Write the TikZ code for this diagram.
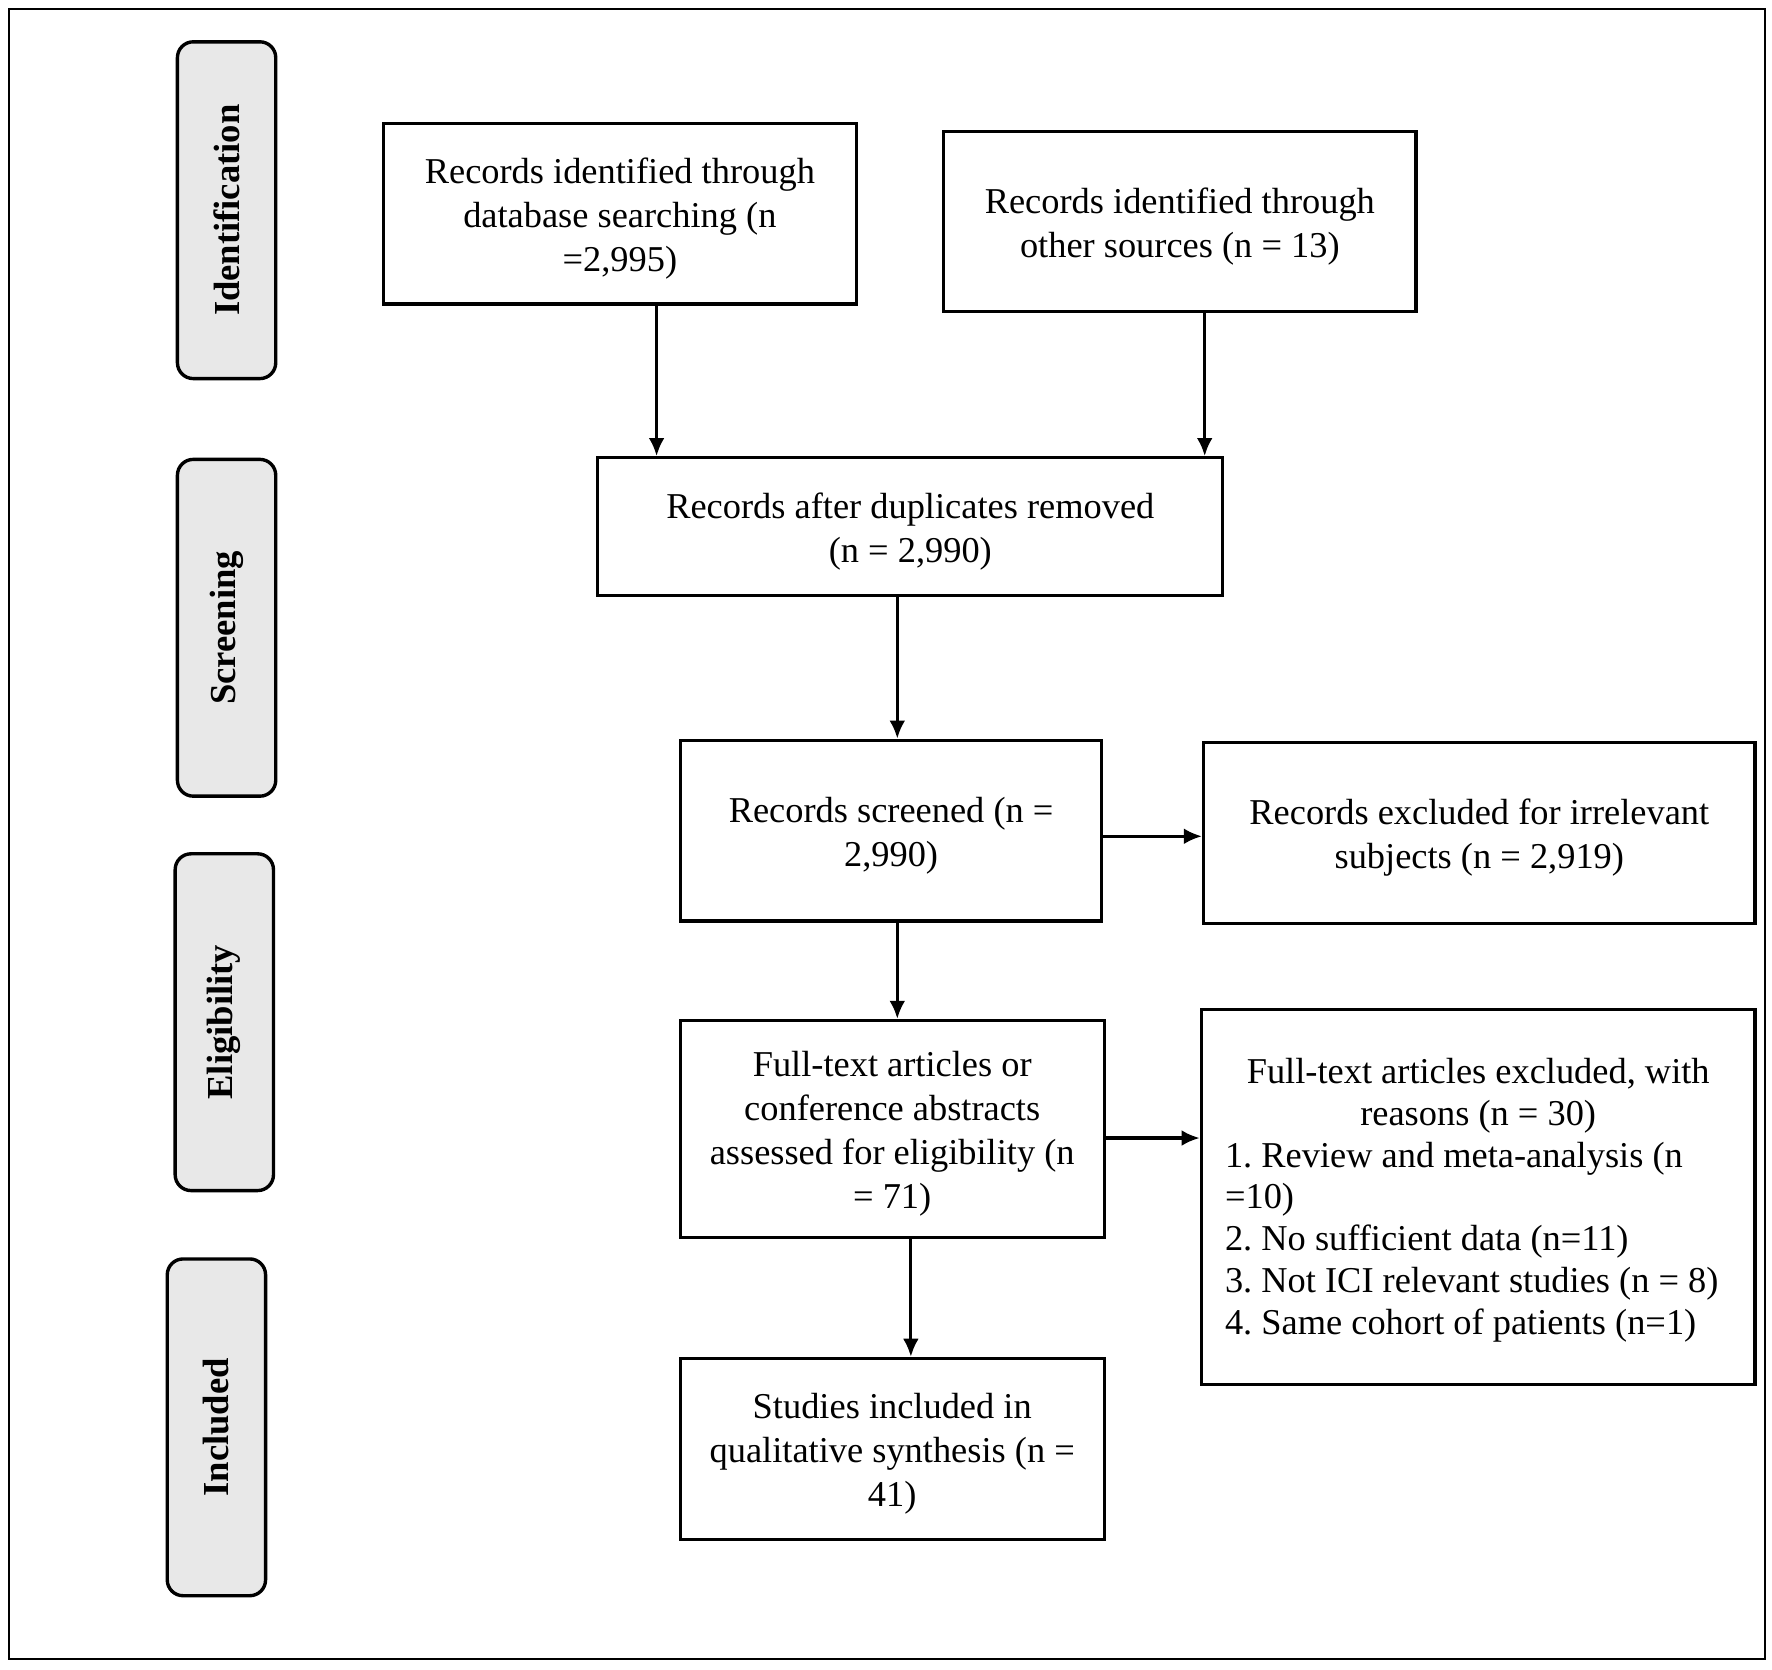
\documentclass[tikz,border=0pt]{standalone}
\usepackage{fontspec}
\setmainfont{Liberation Serif}
\usetikzlibrary{arrows.meta,calc}
\newcommand{\mainsz}{\fontsize{16.1}{19.4}\selectfont\frenchspacing}
\newcommand{\reasz}{\fontsize{16.1}{18.5}\selectfont\frenchspacing}
\newcommand{\stagesz}{\fontsize{16.2}{18}\selectfont\bfseries}
\newcommand{\topst}{\rule{0pt}{15.5pt}}
\begin{document}
\begin{tikzpicture}[x=0.5pt,y=-0.5pt,
  mbox/.style={draw, line width=1.4pt, inner sep=0pt, align=center, font=\mainsz},
  stagebox/.style={draw, line width=1.5pt, fill=gray!18, rounded corners=7pt, rotate=90,
     minimum width=149pt, minimum height=43.5pt, inner sep=0pt, font=\stagesz},
  arr/.style={line width=1.4pt, -{Latex[length=8pt,width=7pt]}}]
\useasboundingbox (0,0) rectangle (1568,1477);
\draw[line width=1pt] (8,8) rectangle (1562,1468);
% stage boxes
\node[stagebox] (sid) at (200.5,186) {Identification};
\node[stagebox] (ssc) at (200.5,555.5) {Screening};
\node[stagebox] (sel) at (198.5,904.5) {Eligibility};
\node[stagebox] (sin) at (191.5,1263) {Included};
% main boxes
\node[mbox, minimum width=209.5pt, minimum height=80pt] (db) at (548.5,189)
  {\topst Records identified through\\database searching (n\\=2,995)};
\node[mbox, minimum width=209pt, minimum height=80pt] (oth) at (1044,196)
  {\topst Records identified through\\other sources (n = 13)};
\node[mbox, minimum width=276.5pt, minimum height=61pt] (dup) at (805.5,466)
  {\topst Records after duplicates removed\\(n = 2,990)};
\node[mbox, minimum width=186.5pt, minimum height=80pt] (scr) at (788.5,735)
  {\topst Records screened (n =\\2,990)};
\node[mbox, minimum width=244pt, minimum height=80pt] (exc) at (1309,737)
  {\topst Records excluded for irrelevant\\subjects (n = 2,919)};
\node[mbox, minimum width=187.5pt, minimum height=96pt] (full) at (789.5,999)
  {\topst Full-text articles or\\conference abstracts\\assessed for eligibility (n\\= 71)};
\node[draw, line width=1.4pt, minimum width=245pt, minimum height=166pt, inner sep=0pt] (rea) at (1308,1059) {};
\node[inner sep=0pt, text width=224pt, align=flush left, font=\reasz] (reat) at (1308,1062)
  {{\centering Full-text articles excluded, with\\reasons (n = 30)\par}
   1. Review and meta-analysis (n\\=10)\\2. No sufficient data (n=11)\\3. Not ICI relevant studies (n = 8)\\4. Same cohort of patients (n=1)};
\node[mbox, minimum width=187.5pt, minimum height=80pt] (inc) at (789.5,1282)
  {\topst Studies included in\\qualitative synthesis (n =\\41)};
% connectors
\draw[arr] ([xshift=16.25pt]db.south) -- ([xshift=16.25pt]db.south |- dup.north);
\draw[arr] ([xshift=11pt]oth.south) -- ([xshift=11pt]oth.south |- dup.north);
\draw[arr] ([xshift=-5.75pt]dup.south) -- ([xshift=-5.75pt]dup.south |- scr.north);
\draw[arr] ([yshift=-2.5pt]scr.east) -- ([yshift=-2.5pt]scr.east -| exc.west);
\draw[arr] ([xshift=2.75pt]scr.south) -- ([xshift=2.75pt]scr.south |- full.north);
\draw[arr] ([yshift=-4pt]full.east) -- ([yshift=-4pt]full.east -| rea.west);
\draw[arr] ([xshift=8.25pt]full.south) -- ([xshift=8.25pt]full.south |- inc.north);
\end{tikzpicture}
\end{document}
